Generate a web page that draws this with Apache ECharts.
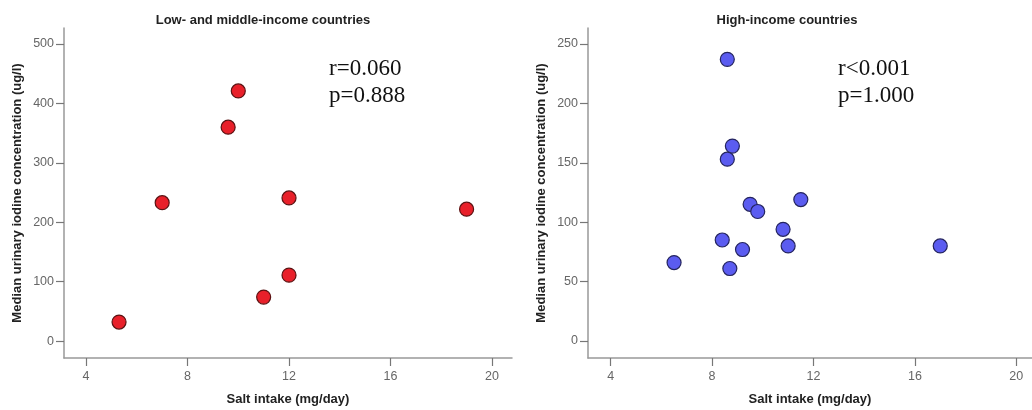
<!DOCTYPE html>
<html>
<head>
<meta charset="utf-8">
<style>
  html, body { margin: 0; padding: 0; background: #fff; }
  #chart { width: 1032px; height: 410px; }
</style>
<script src="https://cdn.jsdelivr.net/npm/echarts@6/dist/echarts.min.js"></script>
</head>
<body>
<div id="chart"></div>
<script>
  // 低中收入国家
  const lowMidPoints = [
    [5.3, 32], [7.0, 233], [9.6, 360], [10.0, 421],
    [12.0, 241], [12.0, 111], [11.0, 74], [19.0, 222]
  ]
  // 高收入国家
  const highPoints = [
    [8.6, 237], [8.8, 164], [8.6, 153], [9.5, 115], [9.8, 109],
    [11.5, 119], [10.8, 94], [8.4, 85], [9.2, 77], [11.0, 80],
    [6.5, 66], [8.7, 61], [17.0, 80]
  ]
  const xTicks = [4, 8, 12, 16, 20]
  const yTicksLeft = [0, 100, 200, 300, 400, 500]
  const yTicksRight = [0, 50, 100, 150, 200, 250]
  const titles = ['Low- and middle-income countries', 'High-income countries']
  const stats = [['r=0.060', 'p=0.888'], ['r<0.001', 'p=1.000']]
  const xName = 'Salt intake (mg/day)'
  const yName = 'Median urinary iodine concentration (ug/l)'

  const axisGray = '#999'
  const labelGray = '#666'

  function xAxisOf(idx, min, max) {
    return {
      gridIndex: idx,
      type: 'value',
      min: min,
      max: max,
      name: xName,
      nameLocation: 'middle',
      nameGap: 35,
      nameTextStyle: {fontFamily: 'Liberation Sans', fontWeight: 'bold', fontSize: 13, color: '#222'},
      axisLine: {show: true, onZero: false, lineStyle: {color: axisGray, width: 1.5}},
      axisTick: {show: true, length: 8, customValues: xTicks, lineStyle: {color: '#777', width: 1.2}},
      axisLabel: {customValues: xTicks, margin: 12, fontFamily: 'Liberation Sans', fontSize: 12.5, color: labelGray},
      splitLine: {show: false}
    }
  }

  function yAxisOf(idx, min, max, ticks) {
    return {
      gridIndex: idx,
      type: 'value',
      min: min,
      max: max,
      name: yName,
      nameLocation: 'middle',
      nameGap: 40,
      nameTextStyle: {fontFamily: 'Liberation Sans', fontWeight: 'bold', fontSize: 13, color: '#222'},
      axisLine: {show: true, onZero: false, lineStyle: {color: axisGray, width: 1.5}},
      axisTick: {show: true, length: 8, customValues: ticks, lineStyle: {color: '#777', width: 1.2}},
      axisLabel: {customValues: ticks, margin: 10, fontFamily: 'Liberation Sans', fontSize: 12.5, color: labelGray},
      splitLine: {show: false}
    }
  }

  function statText(lines, left) {
    return lines.map((t, i) => ({
      type: 'text',
      left: left,
      top: 57 + i * 27,
      style: {text: t, font: '23px "Liberation Serif"', fill: '#111'}
    }))
  }

  const chart = echarts.init(document.getElementById('chart'))
  const option = {
    animation: false,
    backgroundColor: '#fff',
    title: [
      {text: titles[0], left: 258, top: 9, textAlign: 'center',
        textStyle: {fontFamily: 'Liberation Sans', fontWeight: 'bold', fontSize: 13, color: '#222'}},
      {text: titles[1], left: 782, top: 9, textAlign: 'center',
        textStyle: {fontFamily: 'Liberation Sans', fontWeight: 'bold', fontSize: 13, color: '#222'}}
    ],
    grid: [
      {left: 64, top: 28, width: 448, height: 330, outerBoundsMode: 'none'},
      {left: 588, top: 28, width: 444, height: 330, outerBoundsMode: 'none'}
    ],
    xAxis: [
      xAxisOf(0, 3.13, 20.79),
      xAxisOf(1, 3.105, 20.62)
    ],
    yAxis: [
      yAxisOf(0, -28.5, 527, yTicksLeft),
      yAxisOf(1, -14.3, 263.4, yTicksRight)
    ],
    series: [
      {
        type: 'scatter', xAxisIndex: 0, yAxisIndex: 0,
        data: lowMidPoints, symbolSize: 14,
        itemStyle: {color: '#e8202a', borderColor: '#5a1212', borderWidth: 1.2, opacity: 1}
      },
      {
        type: 'scatter', xAxisIndex: 1, yAxisIndex: 1,
        data: highPoints, symbolSize: 14,
        itemStyle: {color: '#5b5cf0', borderColor: '#24245e', borderWidth: 1.2, opacity: 1}
      }
    ],
    graphic: statText(stats[0], 329).concat(statText(stats[1], 838))
  }
  chart.setOption(option)
</script>
</body>
</html>
